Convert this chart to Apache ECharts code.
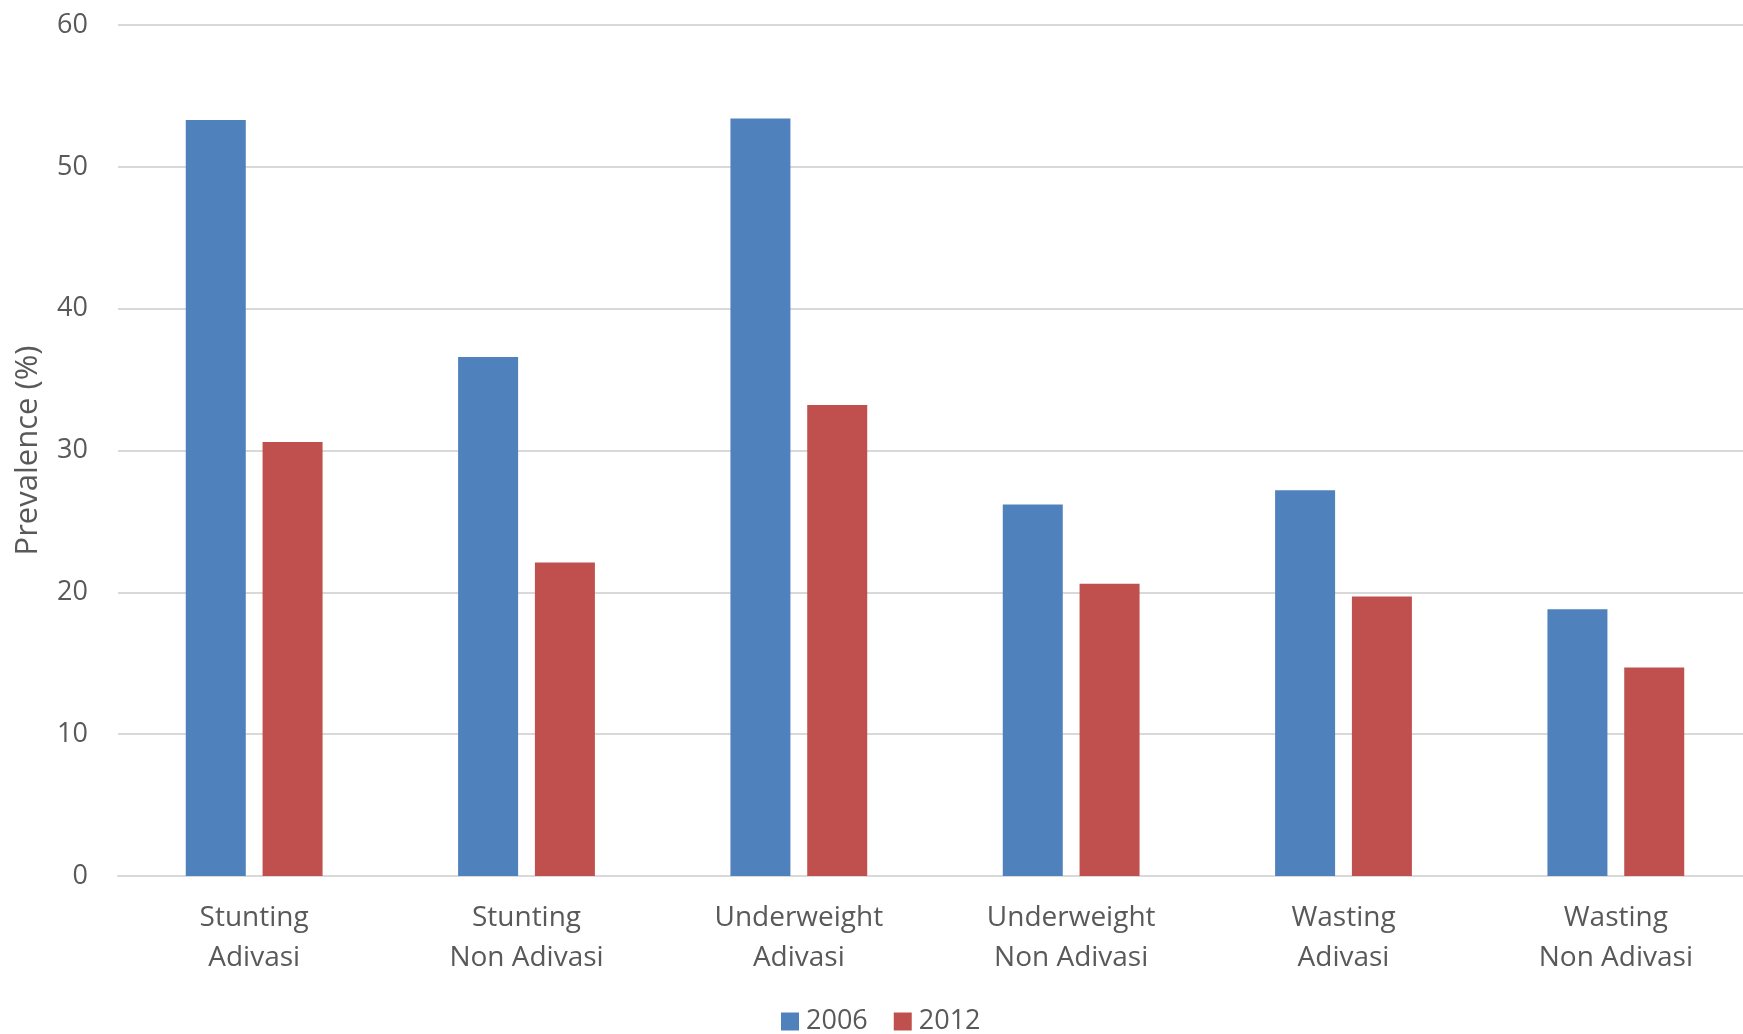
<!DOCTYPE html>
<html>
<head>
<meta charset="utf-8">
<script src="https://cdn.jsdelivr.net/npm/echarts@6/dist/echarts.min.js"></script>
<style>
  html, body { margin: 0; padding: 0; background: #fff; overflow: hidden; }
  /* the plot band runs a few pixels past the right edge of the window */
  #chart { width: 1752px; height: 1034px; }
</style>
</head>
<body>
<div id="chart"></div>
<script>
// Child undernutrition prevalence by group, 2006 vs 2012
const categories = [
  'Stunting\nAdivasi',
  'Stunting\nNon Adivasi',
  'Underweight\nAdivasi',
  'Underweight\nNon Adivasi',
  'Wasting\nAdivasi',
  'Wasting\nNon Adivasi'
];
const values2006 = [53.3, 36.6, 53.4, 26.2, 27.2, 18.8];
const values2012 = [30.6, 22.1, 33.2, 20.6, 19.7, 14.7];
const seriesNames = ['2006', '2012'];
const yTicks = [0, 10, 20, 30, 40, 50, 60];

const FONT = '"Open Sans", "Noto Sans", sans-serif';
const TEXT = '#595959';
const GRID = '#D9D9D9';

const chart = echarts.init(document.getElementById('chart'), null, { renderer: 'canvas' });

chart.setOption({
  animation: false,
  backgroundColor: '#ffffff',
  textStyle: { fontFamily: FONT },
  grid: { left: 118, right: 0, top: 25, bottom: 158, containLabel: false },
  legend: {
    data: seriesNames,
    left: 776,
    top: 1003,
    icon: 'rect',
    itemWidth: 18,
    itemHeight: 18,
    itemGap: 26,
    textStyle: { color: TEXT, fontSize: 27, fontFamily: FONT, padding: [0, 0, 0, 2] }
  },
  xAxis: {
    type: 'category',
    data: categories,
    axisTick: { show: false },
    axisLine: { lineStyle: { color: GRID, width: 2 } },
    axisLabel: {
      color: TEXT,
      fontSize: 28,
      fontFamily: FONT,
      lineHeight: 40,
      margin: 22,
      interval: 0
    }
  },
  yAxis: {
    type: 'value',
    min: yTicks[0],
    max: yTicks[yTicks.length - 1],
    interval: 10,
    name: 'Prevalence (%)',
    nameLocation: 'middle',
    nameGap: 74,
    nameRotate: 90,
    nameTextStyle: { color: TEXT, fontSize: 31, fontFamily: FONT },
    axisLine: { show: false },
    axisTick: { show: false },
    splitLine: { lineStyle: { color: GRID, width: 2 } },
    axisLabel: { color: TEXT, fontSize: 27, fontFamily: FONT, margin: 30 }
  },
  series: [
    {
      name: seriesNames[0],
      type: 'bar',
      data: values2006,
      barWidth: 60,
      barGap: '28%',
      itemStyle: { color: '#4F81BD' }
    },
    {
      name: seriesNames[1],
      type: 'bar',
      data: values2012,
      barWidth: 60,
      barGap: '28%',
      itemStyle: { color: '#C0504D' }
    }
  ]
});
</script>
</body>
</html>
